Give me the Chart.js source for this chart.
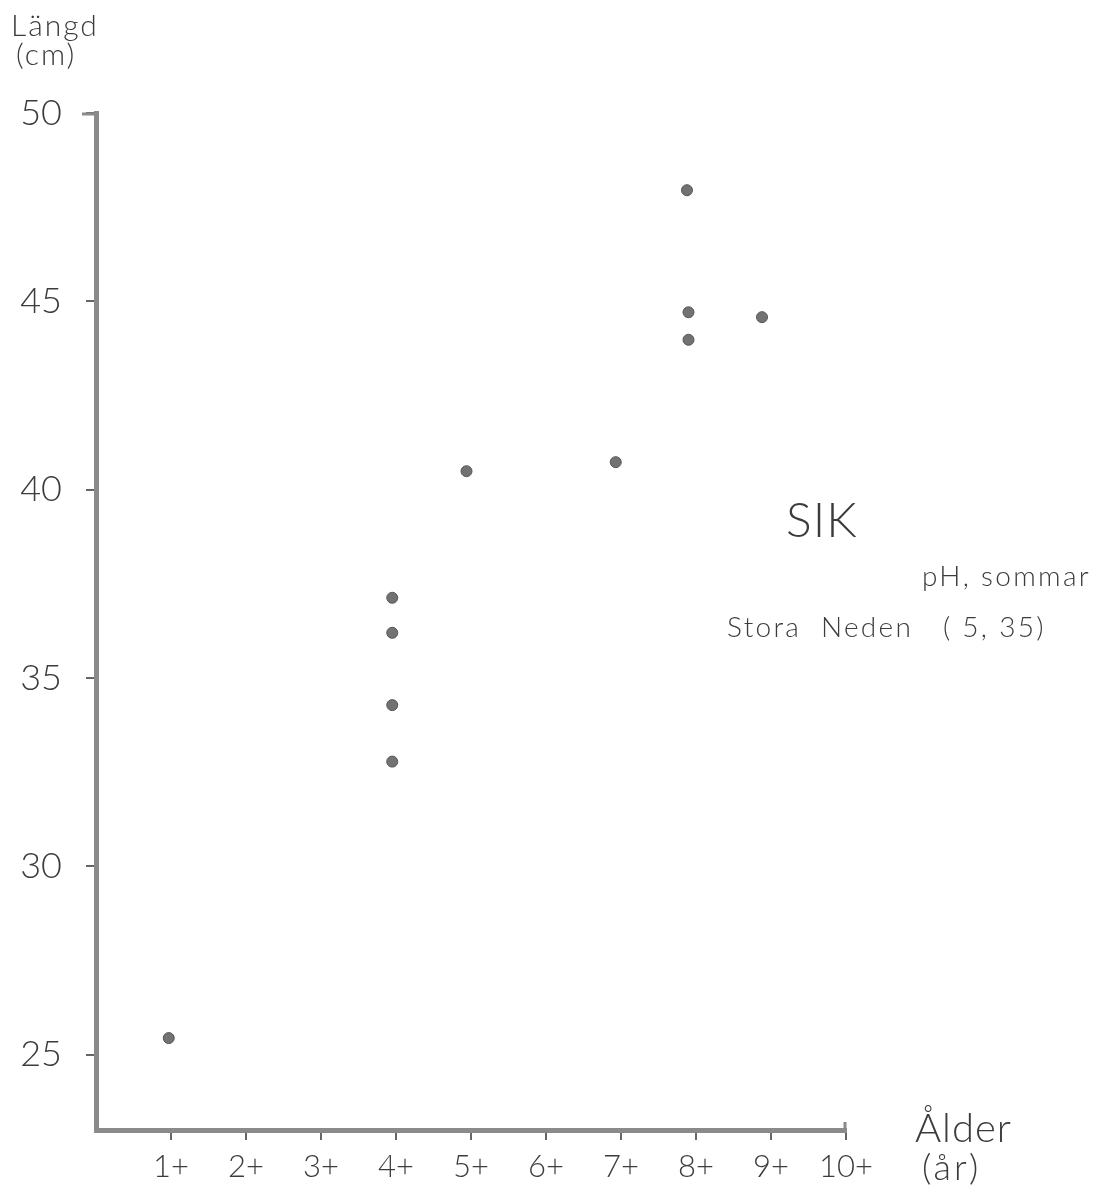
<!DOCTYPE html>
<html>
<head>
<meta charset="utf-8">
<script src="https://cdn.jsdelivr.net/npm/chart.js@4/dist/chart.umd.min.js"></script>
<style>
  html, body { margin: 0; padding: 0; background: #fff; }
  #wrap { width: 1100px; height: 1195px; }
</style>
</head>
<body>
<div id="wrap"><canvas id="chart" width="1100" height="1195"></canvas></div>
<script>
// Age (x) and length in cm (y)
const ages    = [0.97, 3.95, 3.95, 3.95, 3.95, 4.94, 6.93, 7.88, 7.9, 7.9, 8.88];
const lengths = [25.44, 37.13, 36.2, 34.28, 32.78, 40.49, 40.73, 47.95, 44.71, 43.98, 44.58];

const xTicks = [1, 2, 3, 4, 5, 6, 7, 8, 9, 10];
const xTickLabels = ['1+', '2+', '3+', '4+', '5+', '6+', '7+', '8+', '9+', '10+'];
const yTicks = [25, 30, 35, 40, 45, 50];

const fontFamily = "Lato, 'DejaVu Sans', sans-serif";
const inkColor = '#3c3c3c';
const axisColor = '#8a8a8a';

// Free text in the figure: axis titles and the annotation
const annotations = [
    { text: 'Längd', x: 11, y: 36, size: 30, spacing: 2 },
    { text: '(cm)', x: 16, y: 65, size: 30, spacing: 2 },
    { text: 'Ålder', x: 915, y: 1142, size: 40, spacing: 1 },
    { text: '(år)', x: 922, y: 1180, size: 36, spacing: 3 },
    { text: 'SIK', x: 786, y: 537, size: 48, spacing: 1 },
    { text: 'pH, sommar', x: 922, y: 586, size: 28, spacing: 2.3 },
    { text: 'Stora  Neden   ( 5, 35)', x: 727, y: 637, size: 28, spacing: 2.3 }
];

const textPlugin = {
    id: 'textPlugin',
    afterDraw(chart) {
        const ctx = chart.ctx;
        ctx.save();
        ctx.fillStyle = inkColor;
        ctx.textBaseline = 'alphabetic';
        ctx.textAlign = 'left';
        annotations.forEach(a => {
            ctx.font = `300 ${a.size}px ${fontFamily}`;
            ctx.letterSpacing = a.spacing + 'px';
            ctx.fillText(a.text, a.x, a.y);
        });
        ctx.letterSpacing = '0px';
        // small hooks at the ends of the axes
        const area = chart.chartArea;
        ctx.strokeStyle = axisColor;
        ctx.lineWidth = 3;
        ctx.beginPath();
        ctx.moveTo(area.left - 14, area.top + 1);
        ctx.lineTo(area.left, area.top + 1);
        ctx.moveTo(area.right - 1, area.bottom);
        ctx.lineTo(area.right - 1, area.bottom - 8);
        ctx.stroke();
        ctx.restore();
    }
};

const points = ages.map((a, i) => ({ x: a, y: lengths[i] }));

new Chart(document.getElementById('chart'), {
    type: 'scatter',
    data: {
        datasets: [{
            data: points,
            pointRadius: 5.5,
            pointHoverRadius: 5.5,
            backgroundColor: '#727272',
            borderColor: '#555',
            borderWidth: 1
        }]
    },
    options: {
        responsive: false,
        animation: false,
        layout: { padding: { left: 0, top: 113, right: 254, bottom: 0 } },
        plugins: {
            legend: { display: false },
            tooltip: { enabled: false }
        },
        scales: {
            x: {
                type: 'linear',
                min: 0,
                max: 10,
                afterBuildTicks: axis => { axis.ticks = xTicks.map(v => ({ value: v })); },
                afterFit: axis => { axis.height = 65; },
                border: { display: true, color: axisColor, width: 5 },
                grid: { drawOnChartArea: false, drawTicks: true, tickLength: 10, color: '#666', lineWidth: 2 },
                ticks: {
                    padding: 8,
                    color: inkColor,
                    font: { family: fontFamily, size: 31, weight: '300' },
                    callback: (v) => xTickLabels[xTicks.indexOf(v)] || ''
                }
            },
            y: {
                type: 'linear',
                min: 23,
                max: 50,
                afterBuildTicks: axis => { axis.ticks = yTicks.map(v => ({ value: v })); },
                afterFit: axis => { axis.width = 96; },
                border: { display: true, color: axisColor, width: 5 },
                grid: { drawOnChartArea: false, drawTicks: true, tickLength: 10, color: '#666', lineWidth: 2 },
                ticks: {
                    padding: 24,
                    color: inkColor,
                    font: { family: fontFamily, size: 36, weight: '300' }
                }
            }
        }
    },
    plugins: [textPlugin]
});
</script>
</body>
</html>
